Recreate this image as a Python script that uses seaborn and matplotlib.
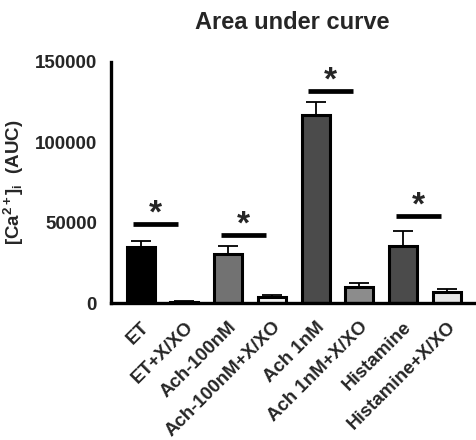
import numpy as np
import pandas as pd
import seaborn as sns
import matplotlib.pyplot as plt

groups = ["ET", "ET+X/XO", "Ach-100nM", "Ach-100nM+X/XO",
          "Ach 1nM", "Ach 1nM+X/XO", "Histamine", "Histamine+X/XO"]
auc = [34800, 1000, 30400, 4100, 116800, 9900, 35400, 6800]
sem = [3700, 200, 5400, 1200, 8000, 2500, 9500, 1900]
colors = ["#000000", "#ffffff", "#727272", "#f2f2f2",
          "#4b4b4b", "#8c8c8c", "#4b4b4b", "#e6e6e6"]

# significance pairs: (left index, line height)
sig_left = [0, 2, 4, 6]
sig_y = [49200, 42400, 131900, 54400]

df = pd.DataFrame({"group": groups, "auc": auc})

sns.set_style("white")
plt.rcParams["font.family"] = ["Liberation Sans", "DejaVu Sans"]
plt.rcParams["font.weight"] = "bold"
plt.rcParams["mathtext.fontset"] = "custom"
plt.rcParams["mathtext.rm"] = "Liberation Sans:bold"
plt.rcParams["mathtext.it"] = "Liberation Sans:bold"
plt.rcParams["mathtext.bf"] = "Liberation Sans:bold"

fig = plt.figure(figsize=(4.76, 4.40), dpi=100)
ax = fig.add_axes([0.233, 0.311, 0.77, 0.549])

sns.barplot(data=df, x="group", y="auc", hue="group", palette=colors,
            width=0.64, edgecolor="black", linewidth=2.2, legend=False, ax=ax)

x = np.arange(len(groups))
ax.errorbar(x, auc, yerr=[np.zeros(len(sem)), sem], fmt="none",
            ecolor="black", elinewidth=1.3, capsize=7, capthick=1.3, zorder=1)
for p in ax.patches:
    p.set_zorder(2)

for i, yv in zip(sig_left, sig_y):
    ax.plot([i - 0.17, i + 0.86], [yv, yv], color="black", lw=3.4,
            solid_capstyle="butt", clip_on=False)
    ax.text(i + 0.34, yv - 3500, "*", ha="center", va="bottom",
            fontsize=24, fontweight="bold", clip_on=False)

ax.set_xlim(-0.68, 7.7)
ax.set_ylim(0, 150000)
ax.set_yticks([0, 50000, 100000, 150000])
ax.set_yticklabels(["0", "50000", "100000", "150000"])
ax.set_xlabel("")
ax.set_ylabel(r"[Ca$^{2+}$]$_{\mathrm{i}}$  (AUC)", fontsize=13.5,
              fontweight="bold", labelpad=6)
ax.set_xticks(x)
ax.set_xticklabels(groups, rotation=45, ha="right", rotation_mode="anchor",
                   fontsize=13.5, fontweight="bold")

for s in ["top", "right"]:
    ax.spines[s].set_visible(False)
for s in ["left", "bottom"]:
    ax.spines[s].set_linewidth(2.4)
    ax.spines[s].set_color("black")
ax.tick_params(axis="y", direction="out", length=8, width=2.4,
               color="black", labelsize=13.5, pad=2)
ax.tick_params(axis="x", direction="out", length=8, width=2.4,
               color="black", labelsize=13.5, pad=3)

fig.text(0.615, 0.948, "Area under curve", ha="center", va="center",
         fontsize=17, fontweight="bold")

fig.savefig("out.png", dpi=100)
